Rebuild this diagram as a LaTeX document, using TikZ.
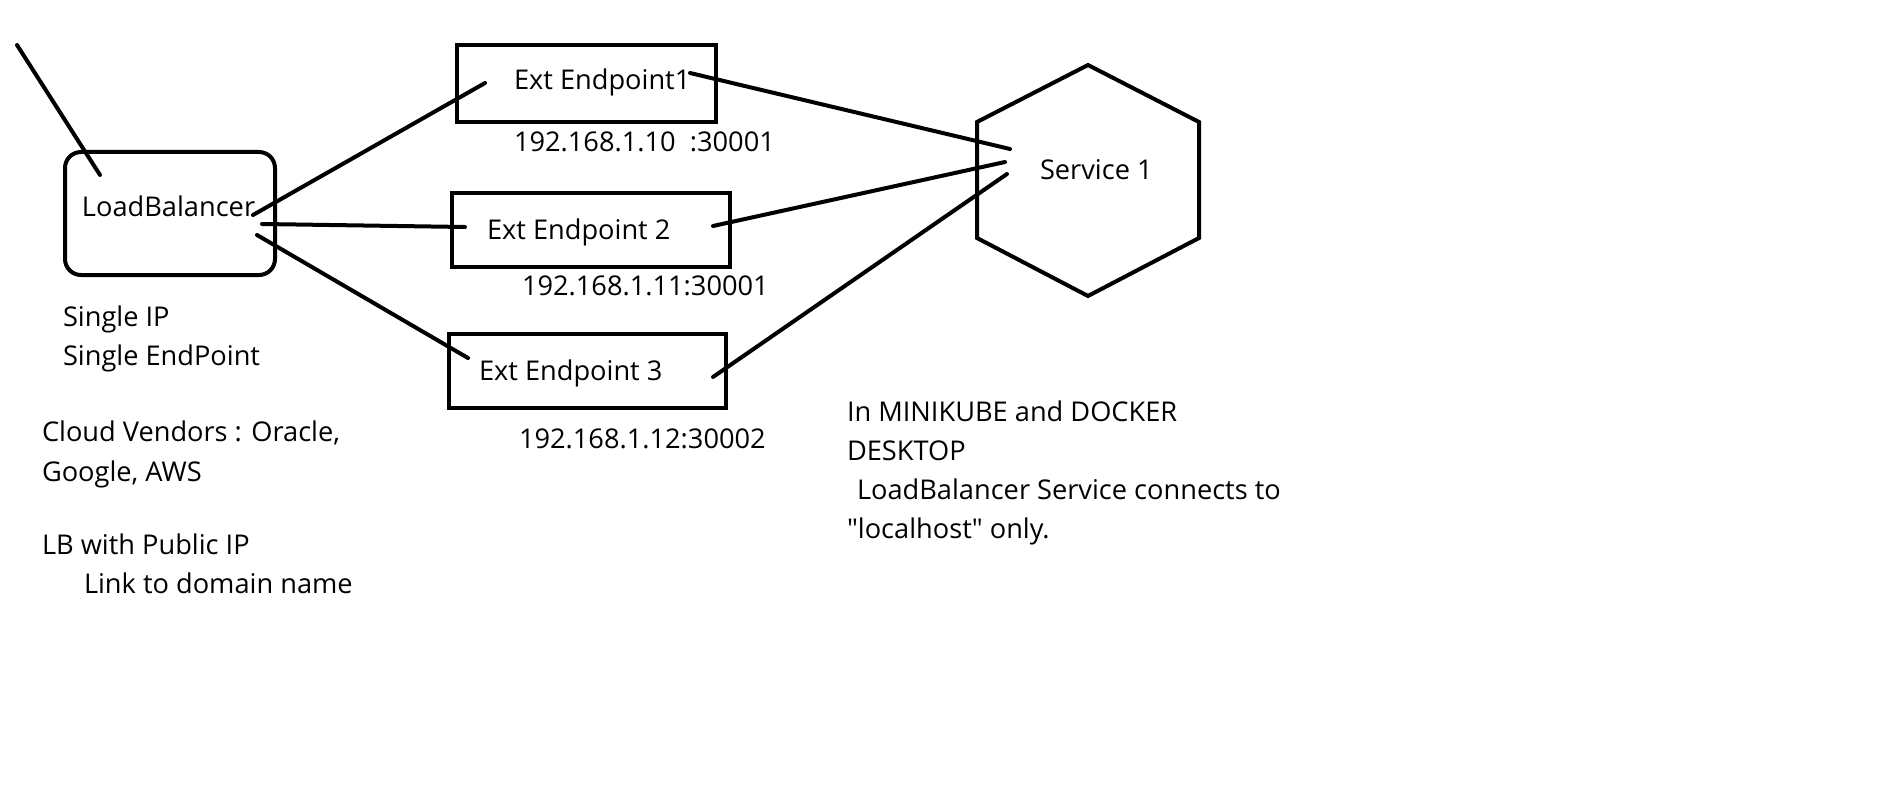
\documentclass[tikz,border=0pt]{standalone}
\usepackage{fontspec}
\setmainfont{Open Sans}

\begin{document}
\begin{tikzpicture}[x=0.5pt, y=-0.5pt,
		font=\fontsize{13.6}{19.2}\selectfont,
		every path/.style={line width=2pt, line cap=round},
		txt/.style={anchor=base west, inner sep=0pt, align=left},
		epbox/.style={draw, inner sep=0pt, outer sep=0pt}]
	\useasboundingbox (0,0) rectangle (1892,797);

	% Load balancer box
	\node[draw, rounded corners=8pt, inner sep=0pt, outer sep=0pt,
		minimum width=105pt, minimum height=61.5pt] (lb) at (170,213.5) {};
	\node[txt] (lbt) at (80,217) {LoadBalancer};
	\coordinate (inet) at (17,45);
	\draw (inet) -- ([shift={(35,23)}]lb.north west);

	% Endpoint boxes
	\foreach \i/\x/\y/\w/\h in {1/586.5/83.5/129.5/38.5, 2/591/230/139/37, 3/587.5/371/138.5/37}
	\node[epbox, minimum width=\w pt, minimum height=\h pt] (ep\i) at (\x,\y) {};

	\node[txt] (ep1t) at (512,90) {Ext Endpoint1};
	\node[txt] (ep2t) at (485,240) {Ext Endpoint 2};
	\node[txt] (ep3t) at (477,380) {Ext Endpoint 3};

	% IP and port under each endpoint
	\node[txt] (ip1) at (512,152) {192.168.1.10\ \ :30001};
	\node[txt] (ip2) at (520,295) {192.168.1.11:30001};
	\node[txt] (ip3) at (517,448) {192.168.1.12:30002};

	% Service as hexagon
	\draw (1088,65) -- (1199,122) -- (1199,238) -- (1088,296) -- (977,238) -- (977,122) -- cycle;
	\node[txt] (svc) at (1038,180) {Service 1};

	% Load balancer to endpoints
	\draw ([shift={(-22,1.5)}]lb.east) -- ([shift={(28,-0.5)}]ep1.west);
	\draw ([shift={(-13,10.5)}]lb.east) -- ([shift={(13,-3)}]ep2.west);
	\draw ([shift={(-18,21.5)}]lb.east) -- ([shift={(19,-13)}]ep3.west);

	% Endpoints to service
	\draw ([shift={(-26,-10.5)}]ep1.east) -- ([shift={(-28,-31)}]svc.base west);
	\draw ([shift={(-17,-4)}]ep2.east) -- ([shift={(-33,-18)}]svc.base west);
	\draw ([shift={(-13,6)}]ep3.east) -- ([shift={(-31,-6)}]svc.base west);

	% Notes (placed at the baseline of their last line)
	\node[txt] (lbnote) at (61,365) {Single IP\\Single EndPoint};
	\node[txt, font=\fontsize{13.6}{20}\selectfont] (cloud) at (40,481) {Cloud Vendors : Oracle,\\Google, AWS};
	\node[txt] (pubip) at (40,593) {LB with Public IP\\\hspace*{21pt}Link to domain name};
	\node[txt, font=\fontsize{13.6}{19.35}\selectfont] (local) at (845,538) {In MINIKUBE and DOCKER\\DESKTOP\\\hspace*{5pt}LoadBalancer Service connects to\\\textquotedbl localhost\textquotedbl{} only.};
\end{tikzpicture}
\end{document}
